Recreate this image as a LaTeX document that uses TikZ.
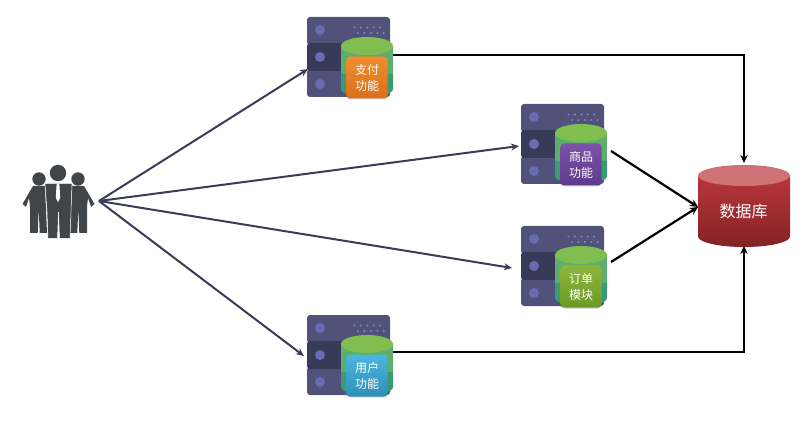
\documentclass[tikz,border=0pt]{standalone}
\usepackage{fontspec}
\setmainfont{Liberation Sans}
\newfontfamily\cjkf{Noto Sans CJK SC}
\usetikzlibrary{arrows.meta,shadows}
\definecolor{rowlight}{HTML}{50527A}
\definecolor{rowdark}{HTML}{383B58}
\definecolor{dotc}{HTML}{686CB4}
\definecolor{linkc}{HTML}{3B3D58}
\definecolor{peoplec}{HTML}{414547}
\definecolor{cyltop}{HTML}{80BE50}
\definecolor{cylmid}{HTML}{5BAE6C}
\definecolor{cyllow}{HTML}{379C74}
\definecolor{dbtopc}{HTML}{CF7276}
\definecolor{dbhi}{HTML}{B83639}
\definecolor{dblo}{HTML}{842226}
\definecolor{orangehi}{HTML}{EF8E2E}
\definecolor{orangelo}{HTML}{DB6F1C}
\definecolor{purplehi}{HTML}{7D52A8}
\definecolor{purplelo}{HTML}{5E3A8C}
\definecolor{greenhi}{HTML}{8DB63C}
\definecolor{greenlo}{HTML}{6A9A26}
\definecolor{bluehi}{HTML}{4DB6DE}
\definecolor{bluelo}{HTML}{2E8FB6}
\tikzset{
  x=1pt,y=-1pt,
  rowbox/.style={rounded corners=3pt,fill=rowlight,draw=none},
  rowboxdark/.style={rounded corners=3pt,fill=rowdark,draw=none},
  rowdot/.style={circle,fill=dotc,draw=none,minimum size=10pt,inner sep=0pt},
  smalldot/.style={fill=dotc!85!white,draw=none},
  fnbox/.style={rounded corners=3.5pt,minimum width=41pt,minimum height=42pt,inner sep=0pt,align=center,
     text=white,font=\cjkf\fontsize{12}{16}\selectfont,draw=none},
  clientlink/.style={draw=linkc,line width=2pt,-{Stealth[length=8pt,width=7pt]}},
  dblink/.style={draw=black,line width=2.2pt,-{Stealth[length=8pt,width=7.5pt]}},
  person/.style={fill=peoplec,draw=none},
}
\newcommand{\serverunit}[6]{% name, dx, dy, top colour, bottom colour, text
  \begin{scope}[shift={(#2,#3)}]
    \fill[rowbox] (307,17) rectangle (390,45);
    \fill[rowbox] (307,69) rectangle (390,97);
    \fill[rowboxdark] (307,43) rectangle (390,71);
    \node[rowdot] (#1-d1) at (320,30) {};
    \node[rowdot] (#1-d2) at (320,57) {};
    \node[rowdot] (#1-d3) at (320,84) {};
    \foreach \i in {0,...,4} {
      \fill[smalldot] (354.5+\i*6.4,27.5) circle (1.2);
      \fill[smalldot] (358+\i*6.4,33) circle (1.2);
    }
    \fill[cylmid] (341,46) -- (341,74) -- (393,74) -- (393,46) -- cycle;
    \fill[cyllow] (341,74) -- (341,89) arc[start angle=180,end angle=0,x radius=26,y radius=8] -- (393,74) -- cycle;
    \fill[cyltop] (367,46) ellipse[x radius=26,y radius=9];
    \node[fnbox,top color=#4,bottom color=#5,drop shadow={shadow xshift=0pt,shadow yshift=-1pt,opacity=.35}] (#1) at (367,77.5) {#6};
  \end{scope}
}
\begin{document}
\begin{tikzpicture}
\useasboundingbox (0,0) rectangle (802,435);
\fill[white] (0,0) rectangle (802,435);
% people
\path[person] (33,186) -- (45,186) -- (47,233) -- (39.7,233) -- (38.7,208) -- (37.7,233) -- (30,233) -- (30,206) -- (29,198) -- (26,207) -- (22.5,204) -- cycle;
\path[person] (84,186) -- (72,186) -- (70,233) -- (77.3,233) -- (78.3,208) -- (79.3,233) -- (87,233) -- (87,206) -- (88,198) -- (91,207) -- (94.5,204) -- cycle;
\fill[peoplec] (39,179) circle (6.7);
\fill[peoplec] (78,179) circle (6.7);
\path[fill=peoplec,draw=white,line width=.5pt] (45,183.5) -- (72,183.5) -- (71,212) -- (70,238.5) -- (59.5,238.5) -- (58.5,212) -- (57.5,238.5) -- (48,238.5) -- (47,212) -- cycle;
\fill[peoplec] (58,173) circle (8.2);
\fill[white] (56.6,184) -- (59.4,184) -- (60.2,198) -- (58,202) -- (55.8,198) -- cycle;
\coordinate (users) at (99,201);
% servers
\serverunit{pay}{0}{0}{orangehi}{orangelo}{支付\\功能}
\serverunit{goods}{214}{87}{purplehi}{purplelo}{商品\\功能}
\serverunit{order}{214}{209}{greenhi}{greenlo}{订单\\模块}
\serverunit{user}{0}{298}{bluehi}{bluelo}{用户\\功能}
% database
\path[top color=dbhi,bottom color=dblo]
  (698,175.5) -- (698,236.5) arc[start angle=180,end angle=0,x radius=46,y radius=10.5] -- (790,175.5) -- cycle;
\fill[dbtopc] (744,175.5) ellipse[x radius=46,y radius=10.5];
\node[text=white,font=\cjkf\fontsize{16}{16}\selectfont,inner sep=0pt] (db) at (743.5,211) {数据库};
% named connector ends
\coordinate (payin) at (308,69);
\coordinate (goodsin) at (519,146);
\coordinate (orderin) at (512,268);
\coordinate (userin) at (304,356);
\coordinate (payout) at (393,55);
\coordinate (userout) at (393,352);
\coordinate (goodsout) at (611,151);
\coordinate (orderout) at (611,262);
\coordinate (dbtop) at (744,163);
\coordinate (dbbottom) at (744,246);
\coordinate (dbleft) at (698,207);
% connectors
\draw[clientlink] (users) -- (payin);
\draw[clientlink] (users) -- (goodsin);
\draw[clientlink] (users) -- (orderin);
\draw[clientlink] (users) -- (userin);
\draw[dblink] (payout) -- (dbtop |- payout) -- (dbtop);
\draw[dblink] (userout) -- (dbbottom |- userout) -- (dbbottom);
\draw[dblink] (goodsout) -- (dbleft);
\draw[dblink] (orderout) -- (dbleft);
\end{tikzpicture}
\end{document}
